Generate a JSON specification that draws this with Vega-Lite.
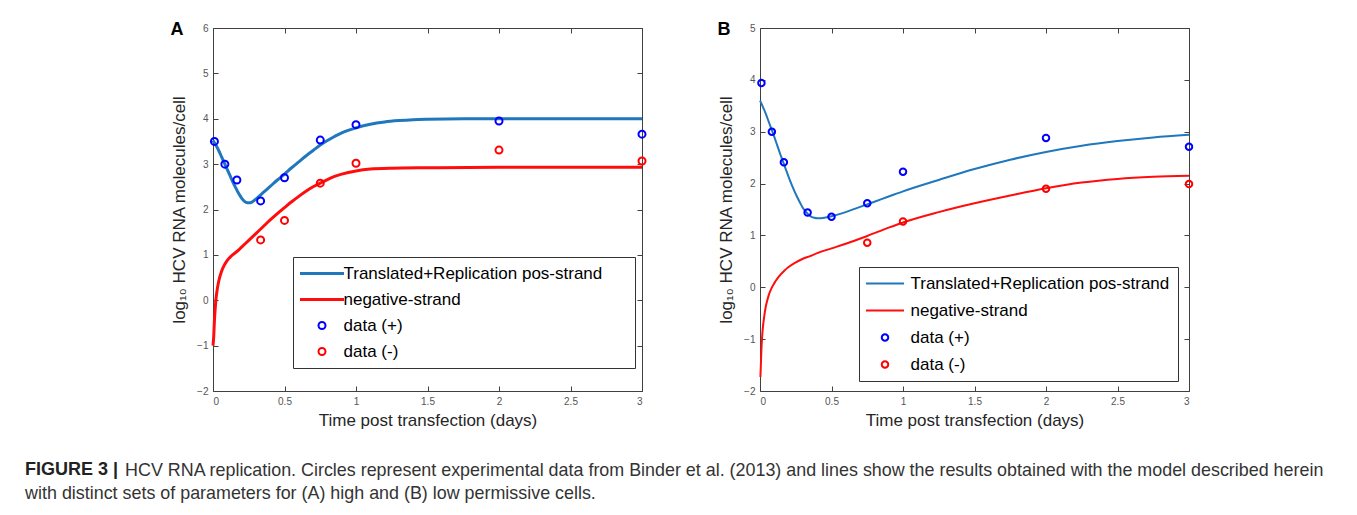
{
  "$schema": "https://vega.github.io/schema/vega-lite/v6.json",
  "background": "white",
  "autosize": {"type": "pad"},
  "padding": {"left": 25, "top": 20, "right": 0, "bottom": 0},
  "title": {
    "text": "FIGURE 3 |",
    "orient": "bottom", "anchor": "start", "frame": "bounds", "dx": 0, "offset": -41,
    "font": "Liberation Sans", "fontSize": 18, "fontWeight": "bold", "color": "#222222"
  },
  "resolve": {"scale": {"color": "independent", "shape": "independent", "stroke": "independent"}, "legend": {"color": "independent", "shape": "independent", "stroke": "independent"}},
  "datasets": {
    "A_lines": [
      {"series": "Translated+Replication pos-strand", "t": 0, "v": 3.52},
      {"series": "Translated+Replication pos-strand", "t": 0.02, "v": 3.42},
      {"series": "Translated+Replication pos-strand", "t": 0.04, "v": 3.3},
      {"series": "Translated+Replication pos-strand", "t": 0.06, "v": 3.16},
      {"series": "Translated+Replication pos-strand", "t": 0.08, "v": 3.02},
      {"series": "Translated+Replication pos-strand", "t": 0.1, "v": 2.88},
      {"series": "Translated+Replication pos-strand", "t": 0.12, "v": 2.74},
      {"series": "Translated+Replication pos-strand", "t": 0.14, "v": 2.6},
      {"series": "Translated+Replication pos-strand", "t": 0.16, "v": 2.47},
      {"series": "Translated+Replication pos-strand", "t": 0.18, "v": 2.35},
      {"series": "Translated+Replication pos-strand", "t": 0.2, "v": 2.25},
      {"series": "Translated+Replication pos-strand", "t": 0.22, "v": 2.18},
      {"series": "Translated+Replication pos-strand", "t": 0.24, "v": 2.15},
      {"series": "Translated+Replication pos-strand", "t": 0.26, "v": 2.15},
      {"series": "Translated+Replication pos-strand", "t": 0.28, "v": 2.18},
      {"series": "Translated+Replication pos-strand", "t": 0.3, "v": 2.23},
      {"series": "Translated+Replication pos-strand", "t": 0.35, "v": 2.37},
      {"series": "Translated+Replication pos-strand", "t": 0.4, "v": 2.51},
      {"series": "Translated+Replication pos-strand", "t": 0.45, "v": 2.65},
      {"series": "Translated+Replication pos-strand", "t": 0.5, "v": 2.78},
      {"series": "Translated+Replication pos-strand", "t": 0.55, "v": 2.92},
      {"series": "Translated+Replication pos-strand", "t": 0.6, "v": 3.05},
      {"series": "Translated+Replication pos-strand", "t": 0.65, "v": 3.18},
      {"series": "Translated+Replication pos-strand", "t": 0.7, "v": 3.3},
      {"series": "Translated+Replication pos-strand", "t": 0.75, "v": 3.42},
      {"series": "Translated+Replication pos-strand", "t": 0.8, "v": 3.52},
      {"series": "Translated+Replication pos-strand", "t": 0.85, "v": 3.61},
      {"series": "Translated+Replication pos-strand", "t": 0.9, "v": 3.69},
      {"series": "Translated+Replication pos-strand", "t": 0.95, "v": 3.75},
      {"series": "Translated+Replication pos-strand", "t": 1, "v": 3.8},
      {"series": "Translated+Replication pos-strand", "t": 1.1, "v": 3.88},
      {"series": "Translated+Replication pos-strand", "t": 1.2, "v": 3.93},
      {"series": "Translated+Replication pos-strand", "t": 1.3, "v": 3.96},
      {"series": "Translated+Replication pos-strand", "t": 1.4, "v": 3.98},
      {"series": "Translated+Replication pos-strand", "t": 1.5, "v": 3.99},
      {"series": "Translated+Replication pos-strand", "t": 1.75, "v": 4.0},
      {"series": "Translated+Replication pos-strand", "t": 2, "v": 4.0},
      {"series": "Translated+Replication pos-strand", "t": 2.5, "v": 4.0},
      {"series": "Translated+Replication pos-strand", "t": 3, "v": 4.0},
      {"series": "negative-strand", "t": 0, "v": -1.0},
      {"series": "negative-strand", "t": 0.005, "v": -0.8},
      {"series": "negative-strand", "t": 0.01, "v": -0.45},
      {"series": "negative-strand", "t": 0.015, "v": -0.2},
      {"series": "negative-strand", "t": 0.02, "v": 0.0},
      {"series": "negative-strand", "t": 0.03, "v": 0.25},
      {"series": "negative-strand", "t": 0.04, "v": 0.42},
      {"series": "negative-strand", "t": 0.06, "v": 0.64},
      {"series": "negative-strand", "t": 0.08, "v": 0.78},
      {"series": "negative-strand", "t": 0.1, "v": 0.88},
      {"series": "negative-strand", "t": 0.13, "v": 0.98},
      {"series": "negative-strand", "t": 0.17, "v": 1.08},
      {"series": "negative-strand", "t": 0.2, "v": 1.17},
      {"series": "negative-strand", "t": 0.25, "v": 1.32},
      {"series": "negative-strand", "t": 0.3, "v": 1.47},
      {"series": "negative-strand", "t": 0.35, "v": 1.62},
      {"series": "negative-strand", "t": 0.4, "v": 1.77},
      {"series": "negative-strand", "t": 0.45, "v": 1.91},
      {"series": "negative-strand", "t": 0.5, "v": 2.04},
      {"series": "negative-strand", "t": 0.55, "v": 2.17},
      {"series": "negative-strand", "t": 0.6, "v": 2.29},
      {"series": "negative-strand", "t": 0.65, "v": 2.4},
      {"series": "negative-strand", "t": 0.7, "v": 2.5},
      {"series": "negative-strand", "t": 0.75, "v": 2.58},
      {"series": "negative-strand", "t": 0.8, "v": 2.66},
      {"series": "negative-strand", "t": 0.85, "v": 2.73},
      {"series": "negative-strand", "t": 0.9, "v": 2.78},
      {"series": "negative-strand", "t": 1, "v": 2.85},
      {"series": "negative-strand", "t": 1.1, "v": 2.89},
      {"series": "negative-strand", "t": 1.25, "v": 2.91},
      {"series": "negative-strand", "t": 1.5, "v": 2.92},
      {"series": "negative-strand", "t": 2, "v": 2.93},
      {"series": "negative-strand", "t": 2.5, "v": 2.93},
      {"series": "negative-strand", "t": 3, "v": 2.93}
    ],
    "A_points": [
      {"series": "data (+)", "t": 0.01, "v": 3.5},
      {"series": "data (+)", "t": 0.083, "v": 3.0},
      {"series": "data (+)", "t": 0.167, "v": 2.65},
      {"series": "data (+)", "t": 0.333, "v": 2.19},
      {"series": "data (+)", "t": 0.5, "v": 2.7},
      {"series": "data (+)", "t": 0.75, "v": 3.53},
      {"series": "data (+)", "t": 1, "v": 3.87},
      {"series": "data (+)", "t": 2, "v": 3.95},
      {"series": "data (+)", "t": 3, "v": 3.66},
      {"series": "data (-)", "t": 0.333, "v": 1.33},
      {"series": "data (-)", "t": 0.5, "v": 1.76},
      {"series": "data (-)", "t": 0.75, "v": 2.58},
      {"series": "data (-)", "t": 1, "v": 3.02},
      {"series": "data (-)", "t": 2, "v": 3.31},
      {"series": "data (-)", "t": 3, "v": 3.07}
    ],
    "B_lines": [
      {"series": "Translated+Replication pos-strand", "t": 0, "v": 3.6},
      {"series": "Translated+Replication pos-strand", "t": 0.02, "v": 3.48},
      {"series": "Translated+Replication pos-strand", "t": 0.04, "v": 3.35},
      {"series": "Translated+Replication pos-strand", "t": 0.06, "v": 3.2},
      {"series": "Translated+Replication pos-strand", "t": 0.08, "v": 3.05},
      {"series": "Translated+Replication pos-strand", "t": 0.1, "v": 2.9},
      {"series": "Translated+Replication pos-strand", "t": 0.12, "v": 2.74},
      {"series": "Translated+Replication pos-strand", "t": 0.14, "v": 2.58},
      {"series": "Translated+Replication pos-strand", "t": 0.16, "v": 2.43},
      {"series": "Translated+Replication pos-strand", "t": 0.18, "v": 2.28},
      {"series": "Translated+Replication pos-strand", "t": 0.2, "v": 2.13},
      {"series": "Translated+Replication pos-strand", "t": 0.22, "v": 1.99},
      {"series": "Translated+Replication pos-strand", "t": 0.24, "v": 1.86},
      {"series": "Translated+Replication pos-strand", "t": 0.26, "v": 1.74},
      {"series": "Translated+Replication pos-strand", "t": 0.28, "v": 1.63},
      {"series": "Translated+Replication pos-strand", "t": 0.3, "v": 1.53},
      {"series": "Translated+Replication pos-strand", "t": 0.32, "v": 1.46},
      {"series": "Translated+Replication pos-strand", "t": 0.34, "v": 1.4},
      {"series": "Translated+Replication pos-strand", "t": 0.36, "v": 1.36},
      {"series": "Translated+Replication pos-strand", "t": 0.38, "v": 1.34},
      {"series": "Translated+Replication pos-strand", "t": 0.4, "v": 1.33},
      {"series": "Translated+Replication pos-strand", "t": 0.45, "v": 1.34},
      {"series": "Translated+Replication pos-strand", "t": 0.5, "v": 1.37},
      {"series": "Translated+Replication pos-strand", "t": 0.6, "v": 1.45},
      {"series": "Translated+Replication pos-strand", "t": 0.7, "v": 1.55},
      {"series": "Translated+Replication pos-strand", "t": 0.8, "v": 1.65},
      {"series": "Translated+Replication pos-strand", "t": 0.9, "v": 1.75},
      {"series": "Translated+Replication pos-strand", "t": 1, "v": 1.85},
      {"series": "Translated+Replication pos-strand", "t": 1.25, "v": 2.07},
      {"series": "Translated+Replication pos-strand", "t": 1.5, "v": 2.28},
      {"series": "Translated+Replication pos-strand", "t": 1.75, "v": 2.46},
      {"series": "Translated+Replication pos-strand", "t": 2, "v": 2.61},
      {"series": "Translated+Replication pos-strand", "t": 2.25, "v": 2.73},
      {"series": "Translated+Replication pos-strand", "t": 2.5, "v": 2.82},
      {"series": "Translated+Replication pos-strand", "t": 2.75, "v": 2.89},
      {"series": "Translated+Replication pos-strand", "t": 3, "v": 2.94},
      {"series": "negative-strand", "t": 0.003, "v": -1.73},
      {"series": "negative-strand", "t": 0.006, "v": -1.5},
      {"series": "negative-strand", "t": 0.01, "v": -1.2},
      {"series": "negative-strand", "t": 0.015, "v": -0.95},
      {"series": "negative-strand", "t": 0.02, "v": -0.78},
      {"series": "negative-strand", "t": 0.03, "v": -0.55},
      {"series": "negative-strand", "t": 0.04, "v": -0.38},
      {"series": "negative-strand", "t": 0.06, "v": -0.16},
      {"series": "negative-strand", "t": 0.08, "v": -0.02},
      {"series": "negative-strand", "t": 0.1, "v": 0.08},
      {"series": "negative-strand", "t": 0.13, "v": 0.2},
      {"series": "negative-strand", "t": 0.17, "v": 0.32},
      {"series": "negative-strand", "t": 0.2, "v": 0.39},
      {"series": "negative-strand", "t": 0.25, "v": 0.48},
      {"series": "negative-strand", "t": 0.3, "v": 0.55},
      {"series": "negative-strand", "t": 0.35, "v": 0.6},
      {"series": "negative-strand", "t": 0.4, "v": 0.66},
      {"series": "negative-strand", "t": 0.5, "v": 0.75},
      {"series": "negative-strand", "t": 0.6, "v": 0.84},
      {"series": "negative-strand", "t": 0.75, "v": 0.99},
      {"series": "negative-strand", "t": 0.9, "v": 1.15},
      {"series": "negative-strand", "t": 1, "v": 1.25},
      {"series": "negative-strand", "t": 1.25, "v": 1.45},
      {"series": "negative-strand", "t": 1.5, "v": 1.62},
      {"series": "negative-strand", "t": 1.75, "v": 1.77},
      {"series": "negative-strand", "t": 2, "v": 1.91},
      {"series": "negative-strand", "t": 2.25, "v": 2.02},
      {"series": "negative-strand", "t": 2.5, "v": 2.09},
      {"series": "negative-strand", "t": 2.75, "v": 2.13},
      {"series": "negative-strand", "t": 3, "v": 2.15}
    ],
    "B_points": [
      {"series": "data (+)", "t": 0.01, "v": 3.94},
      {"series": "data (+)", "t": 0.083, "v": 3.0},
      {"series": "data (+)", "t": 0.167, "v": 2.41},
      {"series": "data (+)", "t": 0.333, "v": 1.44},
      {"series": "data (+)", "t": 0.5, "v": 1.36},
      {"series": "data (+)", "t": 0.75, "v": 1.62},
      {"series": "data (+)", "t": 1, "v": 2.23},
      {"series": "data (+)", "t": 2, "v": 2.88},
      {"series": "data (+)", "t": 3, "v": 2.71},
      {"series": "data (-)", "t": 0.75, "v": 0.86},
      {"series": "data (-)", "t": 1, "v": 1.27},
      {"series": "data (-)", "t": 2, "v": 1.9},
      {"series": "data (-)", "t": 3, "v": 1.99}
    ]
  },
  "vconcat": [
    {
      "title": {
        "text": ["\u2800\u2800\u2800\u2800\u2800\u2800\u2800\u2002HCV RNA replication. Circles represent experimental data from Binder et al. (2013) and lines show the results obtained with the model described herein", "with distinct sets of parameters for (A) high and (B) low permissive cells."],
        "orient": "bottom", "anchor": "start", "frame": "bounds", "dx": -145, "offset": 33,
        "font": "Liberation Sans", "fontSize": 17.9, "fontWeight": "normal", "color": "#333333", "lineHeight": 23
      },
      "spacing": 67,
      "resolve": {"scale": {"color": "independent", "shape": "independent", "stroke": "independent"}, "legend": {"color": "independent", "shape": "independent", "stroke": "independent"}},
      "hconcat": [
        {
          "width": 429, "height": 363,
          "title": {"text": "A", "anchor": "start", "frame": "bounds", "offset": -16, "dx": 0, "fontSize": 18, "fontWeight": "bold", "color": "#000000"},
          "layer": [
            {
              "data": {"name": "A_lines"},
              "mark": {"type": "line", "strokeWidth": 3, "interpolate": "monotone"},
              "encoding": {
                "x": {"field": "t", "type": "quantitative", "scale": {"domain": [0, 3], "nice": false},
                      "axis": {"orient": "bottom", "values": [0, 0.5, 1, 1.5, 2, 2.5, 3], "format": "~g", "title": "Time post transfection (days)", "labelPadding": 10, "titlePadding": 6}},
                "y": {"field": "v", "type": "quantitative", "scale": {"domain": [-2, 6], "nice": false},
                      "axis": {"orient": "left", "values": [-2, -1, 0, 1, 2, 3, 4, 5, 6], "format": "d", "title": "log₁₀ HCV RNA molecules/cell", "labelPadding": 10, "titlePadding": 8}},
                "stroke": {"field": "series", "type": "nominal", "scale": {"domain": ["Translated+Replication pos-strand", "negative-strand"], "range": ["#1f77bd", "#ff0d0d"]}, "legend": null}
              }
            },
            {
              "data": {"name": "A_points"},
              "mark": {"type": "point", "filled": false, "strokeWidth": 2, "size": 49, "opacity": 1},
              "encoding": {
                "x": {"field": "t", "type": "quantitative", "axis": {"orient": "top", "values": [0, 0.5, 1, 1.5, 2, 2.5, 3], "labels": false, "title": null}},
                "y": {"field": "v", "type": "quantitative", "axis": {"orient": "right", "values": [-2, -1, 0, 1, 2, 3, 4, 5, 6], "labels": false, "title": null}},
                "color": {"field": "series", "type": "nominal",
                          "scale": {"domain": ["Translated+Replication pos-strand", "negative-strand", "data (+)", "data (-)"], "range": ["#1f77bd", "#ff0d0d", "#0000ff", "#ff0000"]},
                          "legend": {"orient": "none", "legendX": 80, "legendY": 229, "title": null, "strokeColor": "#333333", "fillColor": "#ffffff", "padding": 8, "rowPadding": 8, "symbolOffset": 12.5, "labelOffset": 13, "symbolSize": 49, "symbolStrokeWidth": 2, "labelFontSize": 17, "labelLimit": 600, "labelColor": "#000000", "labelExpr": "datum.label + '\u2800\u2800'"}},
                "shape": {"field": "series", "type": "nominal",
                          "scale": {"domain": ["Translated+Replication pos-strand", "negative-strand", "data (+)", "data (-)"], "range": ["M -6 -0.143 L 6 -0.143 L 6 0.143 L -6 0.143 Z", "M -6 -0.143 L 6 -0.143 L 6 0.143 L -6 0.143 Z", "M 1 0 A 1 1 0 1 1 -1 0 A 1 1 0 1 1 1 0 Z", "M 1 0 A 1 1 0 1 1 -1 0 A 1 1 0 1 1 1 0 Z"]},
                          "legend": {"orient": "none", "legendX": 80, "legendY": 229, "title": null, "strokeColor": "#333333", "fillColor": "#ffffff", "padding": 8, "rowPadding": 8, "symbolOffset": 12.5, "labelOffset": 13, "symbolSize": 49, "symbolStrokeWidth": 2, "labelFontSize": 17, "labelLimit": 600, "labelColor": "#000000", "labelExpr": "datum.label + '\u2800\u2800'"}}
              }
            }
          ]
        },
        {
          "width": 429, "height": 363,
          "title": {"text": "B", "anchor": "start", "frame": "bounds", "offset": -16, "dx": 0, "fontSize": 18, "fontWeight": "bold", "color": "#000000"},
          "layer": [
            {
              "data": {"name": "B_lines"},
              "mark": {"type": "line", "strokeWidth": 2, "interpolate": "monotone"},
              "encoding": {
                "x": {"field": "t", "type": "quantitative", "scale": {"domain": [0, 3], "nice": false},
                      "axis": {"orient": "bottom", "values": [0, 0.5, 1, 1.5, 2, 2.5, 3], "format": "~g", "title": "Time post transfection (days)", "labelPadding": 10, "titlePadding": 6}},
                "y": {"field": "v", "type": "quantitative", "scale": {"domain": [-2, 5], "nice": false},
                      "axis": {"orient": "left", "values": [-2, -1, 0, 1, 2, 3, 4, 5], "format": "d", "title": "log₁₀ HCV RNA molecules/cell", "labelPadding": 10, "titlePadding": 8}},
                "stroke": {"field": "series", "type": "nominal", "scale": {"domain": ["Translated+Replication pos-strand", "negative-strand"], "range": ["#1f77bd", "#ff0d0d"]}, "legend": null}
              }
            },
            {
              "data": {"name": "B_points"},
              "mark": {"type": "point", "filled": false, "strokeWidth": 2, "size": 42, "opacity": 1},
              "encoding": {
                "x": {"field": "t", "type": "quantitative", "axis": {"orient": "top", "values": [0, 0.5, 1, 1.5, 2, 2.5, 3], "labels": false, "title": null}},
                "y": {"field": "v", "type": "quantitative", "axis": {"orient": "right", "values": [-2, -1, 0, 1, 2, 3, 4, 5], "labels": false, "title": null}},
                "color": {"field": "series", "type": "nominal",
                          "scale": {"domain": ["Translated+Replication pos-strand", "negative-strand", "data (+)", "data (-)"], "range": ["#1f77bd", "#ff0d0d", "#0000ff", "#ff0000"]},
                          "legend": {"orient": "none", "legendX": 99, "legendY": 239, "title": null, "strokeColor": "#333333", "fillColor": "#ffffff", "padding": 8, "rowPadding": 9, "symbolOffset": 9.5, "labelOffset": 17, "symbolSize": 42, "symbolStrokeWidth": 2, "labelFontSize": 17, "labelLimit": 600, "labelColor": "#000000"}},
                "shape": {"field": "series", "type": "nominal",
                          "scale": {"domain": ["Translated+Replication pos-strand", "negative-strand", "data (+)", "data (-)"], "range": ["M -5.86 0 L 5.86 0", "M -5.86 0 L 5.86 0", "M 1 0 A 1 1 0 1 1 -1 0 A 1 1 0 1 1 1 0 Z", "M 1 0 A 1 1 0 1 1 -1 0 A 1 1 0 1 1 1 0 Z"]},
                          "legend": {"orient": "none", "legendX": 99, "legendY": 239, "title": null, "strokeColor": "#333333", "fillColor": "#ffffff", "padding": 8, "rowPadding": 9, "symbolOffset": 9.5, "labelOffset": 17, "symbolSize": 42, "symbolStrokeWidth": 2, "labelFontSize": 17, "labelLimit": 600, "labelColor": "#000000"}}
              }
            }
          ]
        }
      ]
    }
  ],
  "config": {
    "font": "Liberation Sans",
    "view": {"stroke": "#404040", "strokeWidth": 1},
    "axis": {"grid": false, "domain": false, "tickSize": -5, "tickColor": "#404040", "tickWidth": 1,
             "labelFont": "Liberation Sans", "labelFontSize": 10, "labelColor": "#555555",
             "titleFont": "Liberation Sans", "titleFontSize": 17, "titleFontWeight": "normal", "titleColor": "#262626"},
    "legend": {"labelFont": "Liberation Sans"},
    "title": {"font": "Liberation Sans"}
  }
}
